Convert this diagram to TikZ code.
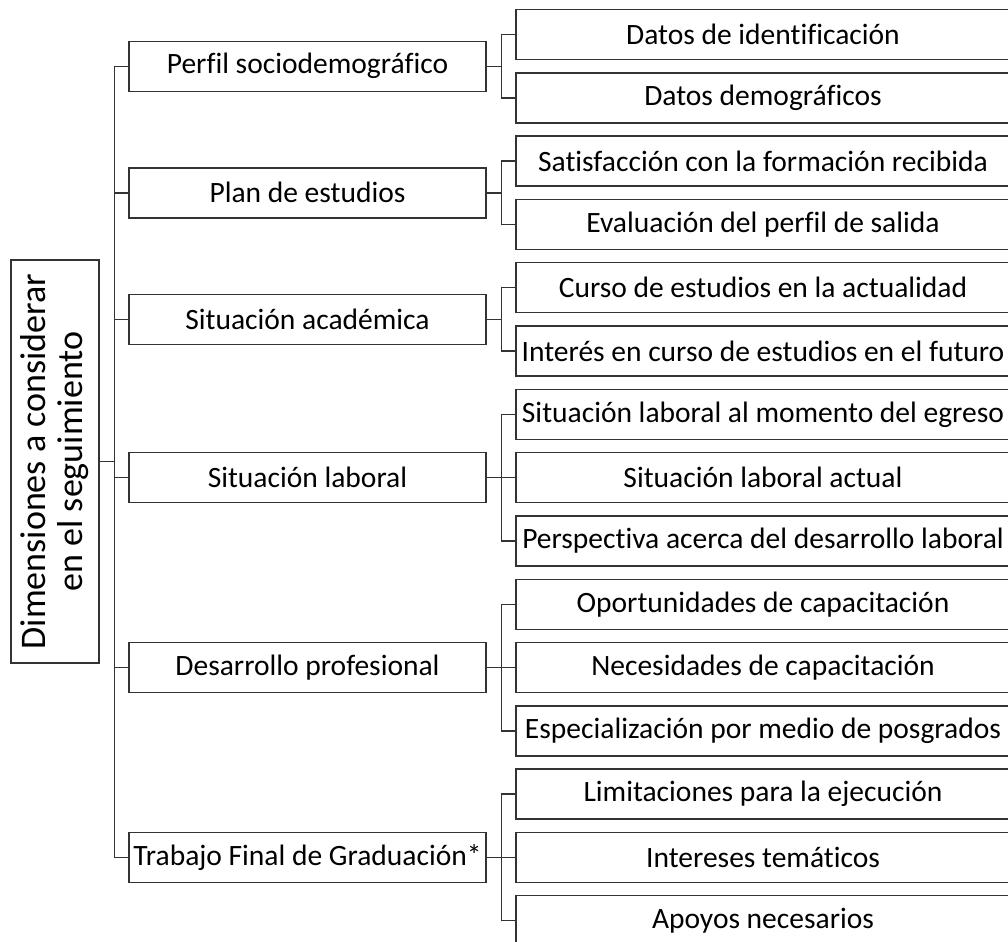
\documentclass[tikz,border=0pt]{standalone}
\usepackage{fontspec}
\setmainfont{Carlito}[Ligatures=NoCommon]
\begin{document}
\begin{tikzpicture}[x=0.02cm,y=-0.02cm,
    link/.style={draw=black!80,line width=0.8pt},
    rootbox/.style={link,rotate=90,align=center,inner sep=0pt,minimum width=8.06cm,minimum height=1.76cm,font=\fontsize{20.5}{21}\selectfont},
    dimbox/.style={link,inner sep=0pt,minimum width=7.14cm,minimum height=1cm,font=\fontsize{16.8}{18}\selectfont},
    itembox/.style={link,inner sep=0pt,minimum width=9.88cm,minimum height=1cm,font=\fontsize{16.8}{18}\selectfont}]
    \useasboundingbox (0,0) rectangle (1008,941);
    \node[rootbox](root) at (55,461.5) {Dimensiones a considerar\\en el seguimiento};
    \node[dimbox](perfil) at (307.5,66.2) {Perfil sociodemográfico};
    \node[dimbox](plan) at (307.5,192.8) {Plan de estudios};
    \node[dimbox](academica) at (307.5,319.4) {Situación académica};
    \node[dimbox](laboral) at (307.5,477.6) {Situación laboral};
    \node[dimbox](desarrollo) at (307.5,667.5) {Desarrollo profesional};
    \node[dimbox](tfg) at (307.5,857.4) {Trabajo Final de Graduación*};
    \node[itembox](identificacion) at (763,34.5) {Datos de identificación};
    \node[itembox](demograficos) at (763,97.8) {Datos demográficos};
    \node[itembox](satisfaccion) at (763,161.1) {Satisfacción con la formación recibida};
    \node[itembox](evaluacion) at (763,224.4) {Evaluación del perfil de salida};
    \node[itembox](curso) at (763,287.7) {Curso de estudios en la actualidad};
    \node[itembox](interes) at (763,351.0) {Interés en curso de estudios en el futuro};
    \node[itembox](egreso) at (763,414.3) {Situación laboral al momento del egreso};
    \node[itembox](actual) at (763,477.6) {Situación laboral actual};
    \node[itembox](perspectiva) at (763,540.9) {Perspectiva acerca del desarrollo laboral};
    \node[itembox](oportunidades) at (763,604.2) {Oportunidades de capacitación};
    \node[itembox](necesidades) at (763,667.5) {Necesidades de capacitación};
    \node[itembox](posgrados) at (763,730.8) {Especialización por medio de posgrados};
    \node[itembox](limitaciones) at (763,794.1) {Limitaciones para la ejecución};
    \node[itembox](tematicos) at (763,857.4) {Intereses temáticos};
    \node[itembox](apoyos) at (763,920.7) {Apoyos necesarios};
    \coordinate (trunk) at ([xshift=0.3cm]root.south);
    \coordinate (jperfil) at ([xshift=0.3cm]perfil.east);
    \coordinate (jplan) at ([xshift=0.3cm]plan.east);
    \coordinate (jacademica) at ([xshift=0.3cm]academica.east);
    \coordinate (jlaboral) at ([xshift=0.3cm]laboral.east);
    \coordinate (jdesarrollo) at ([xshift=0.3cm]desarrollo.east);
    \coordinate (jtfg) at ([xshift=0.3cm]tfg.east);
    \draw[link](root.south) -- (trunk);
    \draw[link](trunk) |- (perfil.west) (trunk) |- (plan.west) (trunk) |- (academica.west)
      (trunk) |- (laboral.west) (trunk) |- (desarrollo.west) (trunk) |- (tfg.west);
    \draw[link](perfil.east) -- (jperfil) (jperfil) |- (identificacion.west) (jperfil) |- (demograficos.west);
    \draw[link](plan.east) -- (jplan) (jplan) |- (satisfaccion.west) (jplan) |- (evaluacion.west);
    \draw[link](academica.east) -- (jacademica) (jacademica) |- (curso.west) (jacademica) |- (interes.west);
    \draw[link](laboral.east) -- (jlaboral) (jlaboral) |- (egreso.west) (jlaboral) |- (actual.west) (jlaboral) |- (perspectiva.west);
    \draw[link](desarrollo.east) -- (jdesarrollo) (jdesarrollo) |- (oportunidades.west) (jdesarrollo) |- (necesidades.west) (jdesarrollo) |- (posgrados.west);
    \draw[link](tfg.east) -- (jtfg) (jtfg) |- (limitaciones.west) (jtfg) |- (tematicos.west) (jtfg) |- (apoyos.west);
\end{tikzpicture}
\end{document}
